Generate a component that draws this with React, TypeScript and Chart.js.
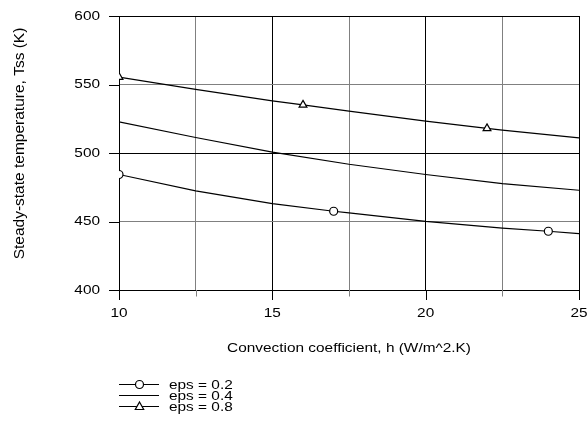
import React, { useEffect, useRef } from 'react';
import { Chart, registerables } from 'chart.js';
Chart.register(...registerables);

// ---- data ----
const h02 = [10, 12.5, 15, 17, 17.5, 20, 22.5, 24, 25];
const tss02 = [484.3, 472.3, 463.1, 457.5, 456.3, 450.1, 445.2, 442.9, 441.1];
const markers02 = [10, 17, 24];

const h04 = [10, 12.5, 15, 17.5, 20, 22.5, 25];
const tss04 = [522.7, 511.3, 500.6, 491.8, 484.3, 477.7, 472.8];

const h08 = [10, 12.5, 15, 16, 17.5, 20, 22, 22.5, 25];
const tss08 = [555.4, 546.4, 538.1, 535.1, 530.6, 523.3, 518.0, 516.7, 511.0];
const markers08 = [10, 16, 22];

const seriesLabels = ['eps = 0.2', 'eps = 0.4', 'eps = 0.8'];
const seriesMarkers = ['circle', 'none', 'triangle'];
const xLabelValues = [10, 15, 20, 25];
const yLabelValues = [400, 450, 500, 550, 600];
const xTitle = 'Convection coefficient, h (W/m^2.K)';
const yTitle = 'Steady-state temperature, Tss (K)';

const FONT = '"Liberation Sans", Arial, Helvetica, sans-serif';
const SX = 1.14;

function drawMarker(ctx: CanvasRenderingContext2D, style: string, x: number, y: number) {
  ctx.save();
  ctx.lineWidth = 1.2;
  ctx.strokeStyle = '#000';
  ctx.fillStyle = '#fff';
  if (style === 'circle') {
    ctx.beginPath();
    ctx.arc(x, y, 4, 0, Math.PI * 2);
    ctx.fill();
    ctx.stroke();
  } else if (style === 'triangle') {
    ctx.beginPath();
    ctx.moveTo(x, y - 4.5);
    ctx.lineTo(x + 4.2, y + 3);
    ctx.lineTo(x - 4.2, y + 3);
    ctx.closePath();
    ctx.fill();
    ctx.stroke();
  }
  ctx.restore();
}

function stretchedText(ctx: CanvasRenderingContext2D, text: string, x: number, y: number, align: CanvasTextAlign) {
  ctx.save();
  ctx.translate(x, y);
  ctx.scale(SX, 1);
  ctx.textAlign = align;
  ctx.textBaseline = 'middle';
  ctx.fillText(text, 0, 0);
  ctx.restore();
}

const decorPlugin = {
  id: 'decor',
  afterDraw(chart: any) {
    const ctx: CanvasRenderingContext2D = chart.ctx;
    const xs = chart.scales.x;
    const ys = chart.scales.y;
    const area = chart.chartArea;
    ctx.save();
    ctx.strokeStyle = '#000';
    ctx.lineWidth = 1;
    // x tick marks
    xs.ticks.forEach((t: any) => {
      const px = Math.round(xs.getPixelForValue(t.value)) + 0.5;
      const major = t.value % 5 === 0;
      ctx.strokeStyle = major ? '#000' : '#808080';
      ctx.beginPath();
      ctx.moveTo(px, area.bottom);
      ctx.lineTo(px, area.bottom + (major ? 10 : 6.5));
      ctx.stroke();
    });
    // y tick marks
    ys.ticks.forEach((t: any) => {
      const py = Math.round(ys.getPixelForValue(t.value)) + 0.5;
      ctx.strokeStyle = '#000';
      ctx.beginPath();
      ctx.moveTo(area.left - 10, py);
      ctx.lineTo(area.left, py);
      ctx.stroke();
    });
    ctx.fillStyle = '#000';
    ctx.font = `13.5px ${FONT}`;
    xLabelValues.forEach((v) => {
      stretchedText(ctx, String(v), xs.getPixelForValue(v), 313, 'center');
    });
    yLabelValues.forEach((v) => {
      stretchedText(ctx, String(v), 100, ys.getPixelForValue(v), 'right');
    });
    stretchedText(ctx, xTitle, (area.left + area.right) / 2, 348, 'center');
    // y title
    ctx.save();
    ctx.font = `15.5px ${FONT}`;
    ctx.translate(20, 143.5);
    ctx.rotate(-Math.PI / 2);
    ctx.textAlign = 'center';
    ctx.textBaseline = 'middle';
    ctx.fillText(yTitle, 0, 0);
    ctx.restore();
    // legend
    ctx.font = `13.5px ${FONT}`;
    seriesLabels.forEach((lab, i) => {
      const y = 384 + 11 * i;
      ctx.strokeStyle = '#000';
      ctx.lineWidth = 1.2;
      ctx.beginPath();
      ctx.moveTo(119, y + 0.5);
      ctx.lineTo(159, y + 0.5);
      ctx.stroke();
      drawMarker(ctx, seriesMarkers[i], 139.5, y + 0.5);
      stretchedText(ctx, lab, 169, y + 1, 'left');
    });
    ctx.restore();
  },
};

function makeSeries(hs: number[], ts: number[], markers: number[], style: string, label: string) {
  return {
    label,
    data: hs.map((h, i) => ({ x: h, y: ts[i] })),
    borderColor: '#000',
    backgroundColor: '#fff',
    borderWidth: 1.2,
    pointRadius: hs.map((h) => (markers.includes(h) ? (style === 'triangle' ? 4.5 : 4) : 0)),
    pointHoverRadius: 0,
    pointStyle: style,
    pointBorderColor: '#000',
    pointBackgroundColor: '#fff',
    pointBorderWidth: 1.2,
    tension: 0,
    fill: false,
    clip: 0,
  };
}

export default function App() {
  const ref = useRef<HTMLCanvasElement | null>(null);
  useEffect(() => {
    if (!ref.current) return;
    const chart = new Chart(ref.current, {
      type: 'line',
      data: {
        datasets: [
          makeSeries(h02, tss02, markers02, 'circle', seriesLabels[0]),
          makeSeries(h04, tss04, [], 'circle', seriesLabels[1]),
          makeSeries(h08, tss08, markers08, 'triangle', seriesLabels[2]),
        ] as any,
      },
      options: {
        animation: false,
        responsive: true,
        maintainAspectRatio: false,
        layout: { padding: { top: 16, right: 8, left: 0, bottom: 0 } },
        plugins: { legend: { display: false }, tooltip: { enabled: false } },
        events: [],
        scales: {
          x: {
            type: 'linear',
            min: 10,
            max: 25,
            ticks: { stepSize: 2.5, display: false },
            grid: {
              drawTicks: false,
              lineWidth: 1,
              color: (c: any) => (c.tick && c.tick.value % 5 === 0 ? '#000' : '#808080'),
            },
            border: { display: true, color: '#000', width: 1 },
            afterFit: (s: any) => {
              s.height = 137;
            },
          },
          y: {
            type: 'linear',
            min: 400,
            max: 600,
            ticks: { stepSize: 50, display: false },
            grid: {
              drawTicks: false,
              lineWidth: 1,
              color: (c: any) => (c.tick && c.tick.value % 100 === 0 ? '#000' : '#808080'),
            },
            border: { display: true, color: '#000', width: 1 },
            afterFit: (s: any) => {
              s.width = 119;
            },
          },
        },
      } as any,
      plugins: [decorPlugin],
    });
    return () => chart.destroy();
  }, []);
  return (
    <div style={{ position: 'absolute', left: 0, top: 0, width: 587, height: 427, background: '#fff' }}>
      <canvas ref={ref} />
    </div>
  );
}
